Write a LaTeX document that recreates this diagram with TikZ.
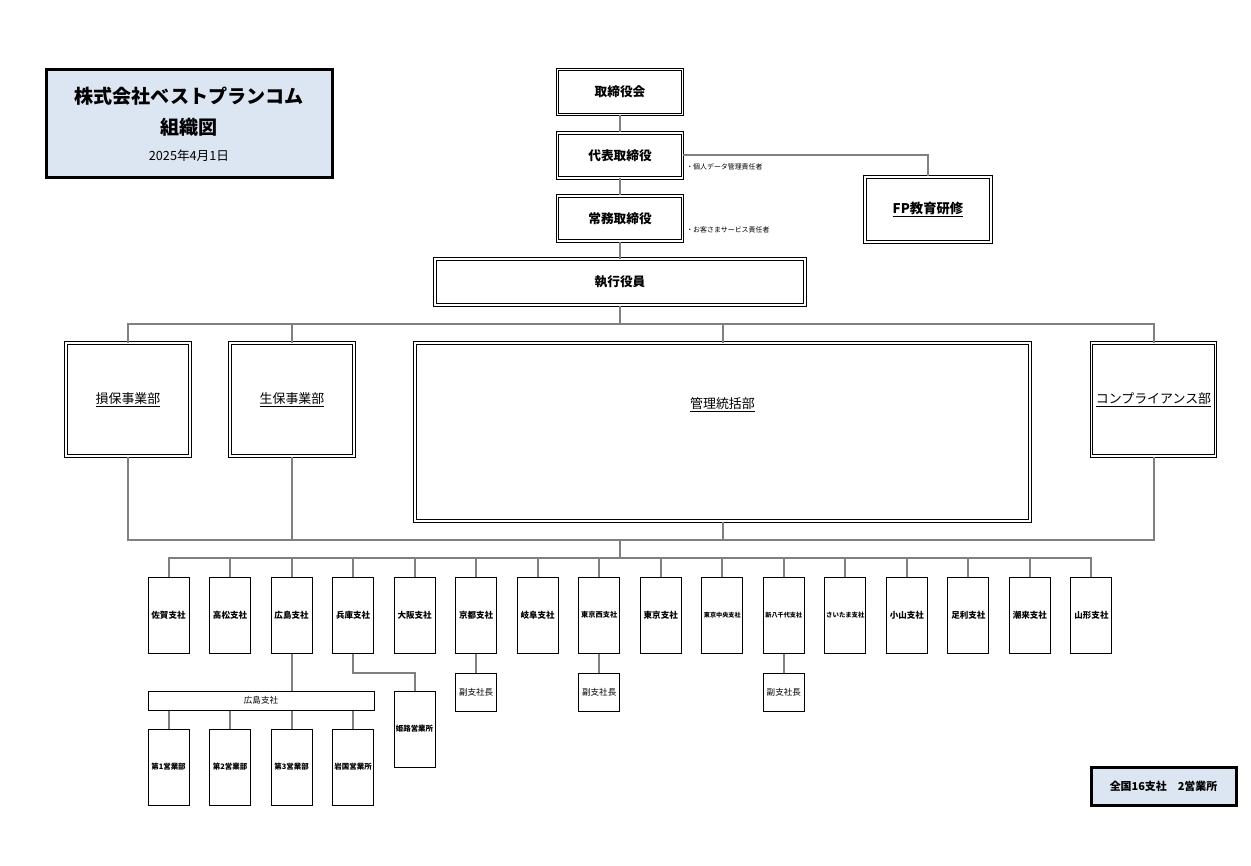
\documentclass[tikz,border=0pt]{standalone}
\usepackage{fontspec}
\setmainfont{Noto Sans CJK JP}
\usetikzlibrary{positioning}
\definecolor{linegray}{RGB}{128,128,128}
\definecolor{titleblue}{RGB}{220,230,242}

\begin{document}
\begin{tikzpicture}[x=0.75pt, y=-0.75pt,
    conn/.style={draw=linegray, line width=1.5pt},
    dbox/.style={draw, double, double distance=0.9pt, line width=0.75pt, fill=white, inner sep=0pt},
    topbox/.style={dbox, minimum width=93.75pt, minimum height=33.75pt, font=\bfseries\fontsize{9.5}{9.5}\selectfont},
    deptbox/.style={dbox, minimum width=93pt, minimum height=84.75pt, font=\fontsize{9.7}{9.7}\selectfont},
    sbox/.style={draw, line width=0.75pt, fill=white, inner sep=0pt, minimum width=30.75pt},
    infobox/.style={draw, line width=2.25pt, fill=titleblue, inner sep=0pt},
    note/.style={anchor=west, inner sep=0pt, font=\fontsize{5.2}{5.2}\selectfont}]

    \useasboundingbox (0,0) rectangle (1251,866);

    % 表題
    \node[infobox, minimum width=214.5pt, minimum height=81pt] (title) at (189,124) {};
    \node[font=\bfseries\fontsize{14.3}{14.3}\selectfont] (company) at (189,96) {株式会社ベストプランコム};
    \node[font=\bfseries\fontsize{14.3}{14.3}\selectfont] (zu) at (189,127) {組織図};
    \node[font=\fontsize{9.5}{9.5}\selectfont] (date) at (189,156) {2025年4月1日};

    % 役員
    \node[topbox] (board) at (620,92) {取締役会};
    \node[topbox] (daihyo) at (620,155.5) {代表取締役};
    \node[topbox] (jomu) at (620,218.5) {常務取締役};
    \node[topbox, minimum width=277.5pt, minimum height=34.5pt] (shikko) at (620,282) {執行役員};
    \node[topbox, minimum width=94.5pt, minimum height=48.75pt, font=\bfseries\fontsize{10}{10}\selectfont] (fp) at (928,209.5) {\underline{FP教育研修}};

    \node[note] (note1) at (686,167) {・個人データ管理責任者};
    \node[note] (note2) at (686,230) {・お客さまサービス責任者};

    \draw[conn] (board) -- (daihyo);
    \draw[conn] (daihyo) -- (jomu);
    \draw[conn] (jomu) -- (shikko);
    \draw[conn] (daihyo.east) -| (fp.north);

    % 部門
    \node[deptbox] (sonpo) at (128,399.5) {\underline{損保事業部}};
    \node[deptbox] (seiho) at (292,399.5) {\underline{生保事業部}};
    \node[deptbox, minimum width=461.25pt, minimum height=133.5pt] (kanri) at (722.5,432) {};
    \node[font=\fontsize{9.7}{9.7}\selectfont] (kanrilabel) at (722.5,405) {\underline{管理統括部}};
    \node[deptbox] (compl) at (1153.5,399.5) {\underline{コンプライアンス部}};

    \coordinate (bus1) at (620,324);
    \coordinate (bus2) at (620,540);
    \coordinate (bus3) at (620,558);

    \draw[conn] (shikko.south) -- (bus1);
    \foreach \d in {sonpo, seiho, kanri, compl} {
        \draw[conn] (\d.north) |- (bus1);
        \draw[conn] (\d.south) |- (bus2);
    }
    \draw[conn] (bus2) -- (bus3);

    % 支社
    \foreach \i/\name/\fs in {1/佐賀支社/6.4, 2/高松支社/6.4, 3/広島支社/6.4, 4/兵庫支社/6.4,
        5/大阪支社/6.4, 6/京都支社/6.4, 7/岐阜支社/6.4, 8/東京西支社/5.4, 9/東京支社/6.4,
        10/東京中央支社/4.6, 11/新八千代支社/4.6, 12/さいたま支社/4.8, 13/小山支社/6.4,
        14/足利支社/6.4, 15/潮来支社/6.4, 16/山形支社/6.4} {
        \node[sbox, minimum height=57pt, font=\bfseries\fontsize{\fs}{\fs}\selectfont] (br\i) at ({168.5+61.53*(\i-1)},615) {\name};
        \draw[conn] (br\i.north) |- (bus3);
    }

    % 広島支社の営業部
    \node[sbox, minimum width=169.5pt, minimum height=14.25pt, font=\fontsize{6.4}{6.4}\selectfont] (hiro) at (261,700.5) {広島支社};
    \draw[conn] (br3.south) -- (br3.south |- hiro.north);
    \foreach \i/\name in {1/第1営業部, 2/第2営業部, 3/第3営業部, 4/岩国営業所} {
        \node[sbox, minimum height=57pt, font=\bfseries\fontsize{5.6}{5.6}\selectfont] (sub\i) at ({168.5+61.53*(\i-1)},767) {\name};
        \draw[conn] (sub\i.north) -- (sub\i.north |- hiro.south);
    }

    % 姫路営業所
    \node[sbox, minimum height=57pt, font=\bfseries\fontsize{5.6}{5.6}\selectfont] (himeji) at (414.5,729) {姫路営業所};
    \draw[conn] (br4.south) -- ++(0,19) -| (himeji.north);

    % 副支社長
    \foreach \b in {6, 8, 11} {
        \node[sbox, minimum height=28.5pt, font=\fontsize{6.4}{6.4}\selectfont, below=14.25pt of br\b] (fuku\b) {副支社長};
        \draw[conn] (br\b.south) -- (fuku\b.north);
    }

    % 合計
    \node[infobox, minimum width=108.75pt, minimum height=28.5pt, font=\bfseries\fontsize{8.2}{8.2}\selectfont] (total) at (1163.5,786) {全国16支社　2営業所};
\end{tikzpicture}
\end{document}
